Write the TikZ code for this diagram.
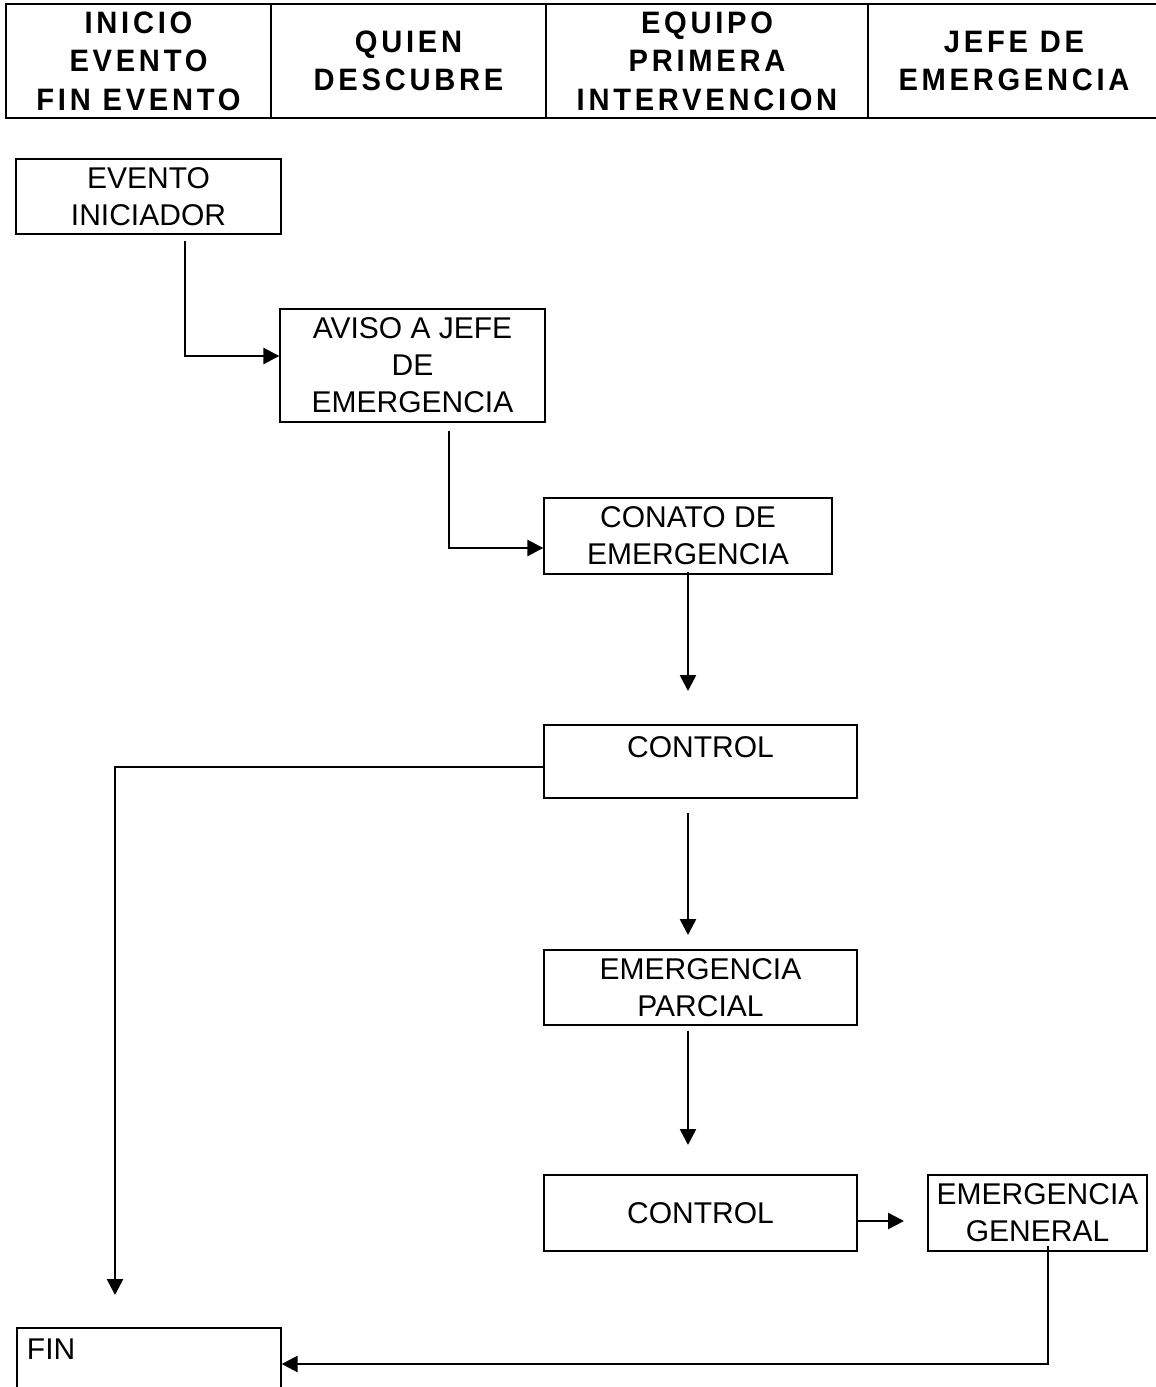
\documentclass[tikz,border=0pt]{standalone}
\usepackage{fontspec}
\setmainfont{Liberation Sans}
\usetikzlibrary{arrows.meta}

\begin{document}
\begin{tikzpicture}[x=1pt, y=-1pt, thick,
	head cell/.style={draw, line width=1.4pt, inner sep=0pt, align=center, minimum height=114pt, font=\fontsize{31}{38.5}\selectfont\bfseries\addfontfeature{FakeStretch=0.94, LetterSpace=12}},
	flow box/.style={draw, line width=1.3pt, inner sep=0pt, align=center, font=\fontsize{30}{37}\selectfont},
	flow line/.style={line width=2.6pt},
	flow arrow/.style={flow line, -{Triangle[length=16pt, width=16pt]}}]
	\useasboundingbox (0,0) rectangle (1156,1387);
	\clip (0,0) rectangle (1156,1387);

	\node[head cell, minimum width=265pt] (inicio) at (138.5,61) {INICIO\\EVENTO\\FIN EVENTO};
	\node[head cell, minimum width=275pt] (quien) at (408.5,61) {QUIEN\\DESCUBRE};
	\node[head cell, minimum width=322pt] (equipo) at (707,61) {EQUIPO\\PRIMERA\\INTERVENCION};
	\node[head cell, minimum width=292pt] (jefe) at (1014,61) {JEFE DE\\EMERGENCIA};

	\node[flow box, minimum width=265pt, minimum height=75pt] (evento) at (148.5,196.5) {EVENTO\\INICIADOR};
	\node[flow box, minimum width=265pt, minimum height=113pt] (aviso) at (412.5,365.5) {AVISO A JEFE\\DE\\EMERGENCIA};
	\node[flow box, minimum width=288pt, minimum height=76pt] (conato) at (688,536) {CONATO DE\\EMERGENCIA};
	\node[flow box, minimum width=313pt, text height=32pt, text depth=41pt] (control1) at (700.5,761.5) {CONTROL};
	\node[flow box, minimum width=313pt, minimum height=75pt] (parcial) at (700.5,987.5) {EMERGENCIA\\PARCIAL};
	\node[flow box, minimum width=313pt, minimum height=76pt] (control2) at (700.5,1213) {CONTROL};
	\node[flow box, minimum width=219pt, minimum height=76pt] (general) at (1037.5,1213) {EMERGENCIA\\GENERAL};
	\node[flow box, align=left, inner xsep=10pt, text width=244pt, text height=31pt, text depth=41pt] (fin) at (149,1364) {FIN};

	\coordinate (tip1) at (688,691);
	\coordinate (tip2) at (115,1295);
	\coordinate (tip3) at (688,935);
	\coordinate (tip4) at (688,1145);
	\coordinate (tip5) at (904,1221);

	\draw[flow arrow] ([xshift=36.5pt, yshift=-6pt]evento.south) |- ([yshift=9.5pt]aviso.west);
	\draw[flow arrow] ([xshift=36.5pt, yshift=-8pt]aviso.south) |- ([yshift=-12pt]conato.west);
	\draw[flow arrow] ([yshift=3pt]conato.south) -- (tip1);
	\draw[flow arrow] ([yshift=-5.5pt]control1.west) -| (tip2);
	\draw[flow arrow] ([xshift=-12.5pt, yshift=-14pt]control1.south) -- (tip3);
	\draw[flow arrow] ([xshift=-12.5pt, yshift=-5pt]parcial.south) -- (tip4);
	\draw[flow arrow] ([yshift=-8pt]control2.east) -- (tip5);
	\draw[flow arrow] ([xshift=10.5pt, yshift=6pt]general.south) |- (fin.east);
\end{tikzpicture}
\end{document}
